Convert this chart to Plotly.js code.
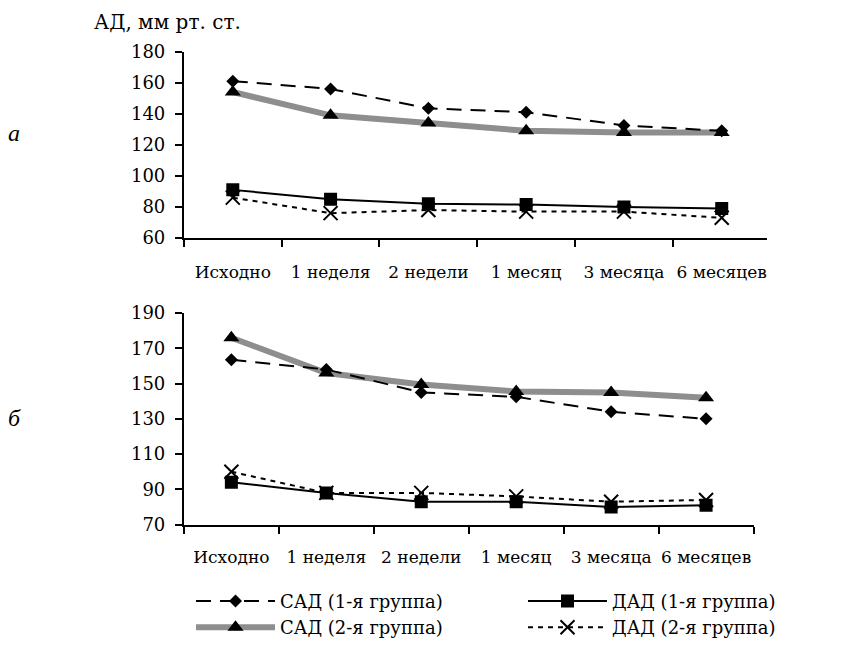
<!DOCTYPE html>
<html>
<head>
<meta charset="utf-8">
<script src="https://cdn.plot.ly/plotly-3.0.1.min.js"></script>
<style>html,body{margin:0;padding:0;background:#fff;}#chart{width:855px;height:646px;}</style>
</head>
<body>
<div id="chart"></div>
<script>
// Categories (time points)
var categories = ['Исходно', '1 неделя', '2 недели', '1 месяц', '3 месяца', '6 месяцев'];

// Panel "а"
var sad1_a = [161, 156, 143.5, 141, 132.5, 129];
var sad2_a = [154, 139, 134, 129, 128, 128];
var dad1_a = [91, 85, 82, 81.5, 80, 79];
var dad2_a = [86, 76, 78, 77, 77, 73];

// Panel "б"
var sad1_b = [163.5, 158, 145, 142.5, 134, 130];
var sad2_b = [176, 156, 149.5, 145.5, 145, 142];
var dad1_b = [94, 88, 83, 83, 80, 81];
var dad2_b = [100, 88, 88, 86, 83, 84];

var seriesNames = ['САД (1-я группа)', 'ДАД (1-я группа)', 'САД (2-я группа)', 'ДАД (2-я группа)'];

var W = 855, H = 646;
var FONT = "'DejaVu Serif', serif";

var styles = {
  sad1: {line: {color: '#000', width: 2, dash: '15px,9px'}, marker: {symbol: 'diamond', size: 10, color: '#000'}},
  dad1: {line: {color: '#000', width: 2}, marker: {symbol: 'square', size: 13, color: '#000'}},
  sad2: {line: {color: '#8e8e8e', width: 6}, marker: {symbol: 'triangle-up', size: 14, color: '#000'}},
  dad2: {line: {color: '#000', width: 2, dash: '5px,5px'}, marker: {symbol: 'x-thin', size: 14, color: '#000', line: {color: '#000', width: 2}}}
};

function tr(y, key, name, xa, ya, show) {
  var s = styles[key];
  return {
    type: 'scatter', mode: 'lines+markers', x: categories, y: y, name: name,
    xaxis: xa, yaxis: ya, showlegend: show, legendrank: 0,
    line: s.line, marker: s.marker, hoverinfo: 'skip'
  };
}

// Draw order: grey line under others
var data = [
  tr(sad2_a, 'sad2', seriesNames[2], 'x', 'y', true),
  tr(sad1_a, 'sad1', seriesNames[0], 'x', 'y', true),
  tr(dad2_a, 'dad2', seriesNames[3], 'x', 'y', true),
  tr(dad1_a, 'dad1', seriesNames[1], 'x', 'y', true),
  tr(sad2_b, 'sad2', seriesNames[2], 'x2', 'y2', false),
  tr(sad1_b, 'sad1', seriesNames[0], 'x2', 'y2', false),
  tr(dad2_b, 'dad2', seriesNames[3], 'x2', 'y2', false),
  tr(dad1_b, 'dad1', seriesNames[1], 'x2', 'y2', false)
];
// legend order: САД1, ДАД1, САД2, ДАД2
data[1].legendrank = 1; data[3].legendrank = 2; data[0].legendrank = 3; data[2].legendrank = 4;

function xax(domain, range, standoff) {
  return {
    domain: domain, type: 'category', range: range, showgrid: false, zeroline: false,
    showline: true, linecolor: '#000', linewidth: 2, ticks: 'outside', ticklen: 7, tickwidth: 2,
    tickcolor: '#000', tickson: 'boundaries', tickangle: 0,
    tickfont: {family: FONT, size: 17, color: '#000'},
    ticklabelstandoff: standoff, fixedrange: true
  };
}
function yax(domain, range, tick0, anchor) {
  return {
    domain: domain, range: range, tick0: tick0, dtick: 20, anchor: anchor, showgrid: false, zeroline: false,
    showline: true, linecolor: '#000', linewidth: 2, ticks: 'outside', ticklen: 7, tickwidth: 2,
    tickcolor: '#000', tickfont: {family: FONT, size: 18, color: '#000'}, ticklabelstandoff: 6,
    fixedrange: true
  };
}

var layout = {
  width: W, height: H,
  margin: {l: 0, r: 0, t: 0, b: 0},
  paper_bgcolor: '#fff', plot_bgcolor: 'rgba(0,0,0,0)',
  font: {family: FONT, color: '#000'},
  hovermode: false,
  xaxis: Object.assign(xax([205 / W, 1], [-0.5, 5.463], 18), {anchor: 'y'}),
  yaxis: yax([1 - 241 / H, 1 - 52.3 / H], [60, 180], 60, 'x'),
  xaxis2: Object.assign(xax([205 / W, 840 / W], [-0.5, 5.5], 16), {anchor: 'y2'}),
  yaxis2: yax([1 - 531.2 / H, 1 - 317 / H], [70, 190], 70, 'x2'),
  showlegend: true,
  legend: {
    orientation: 'h', x: 213 / W, xanchor: 'left', y: 1 - 590 / H, yanchor: 'top',
    itemwidth: 79, entrywidth: 238, entrywidthmode: 'pixels', traceorder: 'normal',
    font: {family: FONT, size: 18, color: '#000'}, bgcolor: 'rgba(0,0,0,0)', borderwidth: 0,
    itemclick: false, itemdoubleclick: false
  },
  annotations: [
    {text: 'АД, мм рт. ст.', xref: 'paper', yref: 'paper', x: 103 / W, y: 1 - 22 / H,
     xanchor: 'left', yanchor: 'middle', showarrow: false, font: {family: FONT, size: 20, color: '#000'}},
    {text: '<i>а</i>', xref: 'paper', yref: 'paper', x: 7 / W, y: 1 - 135 / H,
     xanchor: 'left', yanchor: 'middle', showarrow: false, font: {family: "'Liberation Serif', serif", size: 24, color: '#000'}},
    {text: '<i>б</i>', xref: 'paper', yref: 'paper', x: 7 / W, y: 1 - 423 / H,
     xanchor: 'left', yanchor: 'middle', showarrow: false, font: {family: "'Liberation Serif', serif", size: 24, color: '#000'}}
  ]
};

Plotly.newPlot('chart', data, layout, {displayModeBar: false, staticPlot: true});
</script>
</body>
</html>
